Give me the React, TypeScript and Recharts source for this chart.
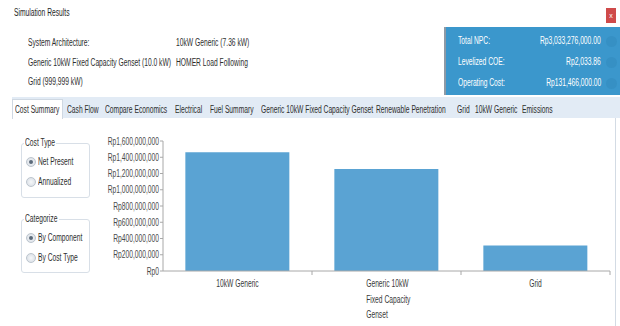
import { BarChart, Bar, XAxis, YAxis } from "recharts";

const FONT = '"Liberation Sans", Arial, sans-serif';
const SQ = 0.67; // horizontal squeeze, the source UI font is narrow
const FS = 10;

const components = ["10kW Generic", "Generic 10kW Fixed Capacity Genset", "Grid"];
const npcValues = [1462000000, 1256000000, 315000000];
const yTicks = [0, 200000000, 400000000, 600000000, 800000000, 1000000000, 1200000000, 1400000000, 1600000000];

const architecture = [
  ["System Architecture:", "10kW Generic (7.36 kW)"],
  ["Generic 10kW Fixed Capacity Genset (10.0 kW)", "HOMER Load Following"],
  ["Grid (999,999 kW)", ""],
];
const summary = [
  ["Total NPC:", "Rp3,033,276,000.00"],
  ["Levelized COE:", "Rp2,033.86"],
  ["Operating Cost:", "Rp131,466,000.00"],
];
const tabs = [
  "Cost Summary", "Cash Flow", "Compare Economics", "Electrical", "Fuel Summary",
  "Generic 10kW Fixed Capacity Genset", "Renewable Penetration", "Grid", "10kW Generic", "Emissions",
];
const tabX = [15, 67, 105, 175, 210, 261, 376, 457, 475, 522];

const data = components.map((name, i) => ({ name, npc: npcValues[i] }));

const rp = (v: number) => "Rp" + v.toLocaleString("en-US");

const wrap = (s: string, max: number) => {
  const out: string[] = [];
  let cur = "";
  s.split(" ").forEach((w) => {
    if (cur && (cur + " " + w).length > max) {
      out.push(cur);
      cur = w;
    } else cur = cur ? cur + " " + w : w;
  });
  if (cur) out.push(cur);
  return out;
};

// text placed by its vertical centre, squeezed horizontally
const T = ({ x, y, children, color = "#2e2e2e", right = false }: any) => (
  <div
    style={{
      position: "absolute",
      top: y - 6,
      lineHeight: "12px",
      height: 12,
      fontSize: FS,
      color,
      whiteSpace: "nowrap",
      ...(right ? { right: 620 - x } : { left: x }),
    }}
  >
    <span style={{ display: "inline-block", transform: `scaleX(${SQ})`, transformOrigin: right ? "right center" : "left center" }}>
      {children}
    </span>
  </div>
);

const YTick = (props: any) => {
  const { x, y, payload } = props;
  return (
    <text
      transform={`translate(${x},${y}) scale(${SQ},1)`}
      textAnchor="end"
      dy="0.35em"
      fontSize={FS}
      fill="#4a4a4a"
      fontFamily={FONT}
    >
      {rp(payload.value)}
    </text>
  );
};

const CatTick = (props: any) => {
  const { x, y, payload, width, visibleTicksCount } = props;
  const band = width / (visibleTicksCount || 3);
  const lines = wrap(payload.value, 14);
  const longest = Math.max(...lines.map((l) => l.length));
  const multi = lines.length > 1;
  return (
    <g>
      <line x1={x + band / 2} x2={x + band / 2} y1={y - 6} y2={y - 2} stroke="#a8a8a8" />
      {lines.map((l, i) => (
        <text
          key={i}
          transform={`translate(${multi ? x - longest * 1.45 : x},${y + 10 + i * 15.5}) scale(${SQ},1)`}
          textAnchor={multi ? "start" : "middle"}
          fontSize={FS}
          fill="#3a3a3a"
          fontFamily={FONT}
        >
          {l}
        </text>
      ))}
    </g>
  );
};

const Radio = ({ checked, label, y }: { checked: boolean; label: string; y: number }) => (
  <>
    <div
      style={{
        position: "absolute", left: 26, top: y - 5, width: 8, height: 8, borderRadius: "50%",
        border: "1px solid #bcc5ce", background: "radial-gradient(circle, #f6f8fa 0%, #d5dbe2 100%)",
        display: "flex", alignItems: "center", justifyContent: "center",
      }}
    >
      {checked && <div style={{ width: 4, height: 4, borderRadius: "50%", background: "#5b6a7a" }} />}
    </div>
    <T x={38} y={y}>{label}</T>
  </>
);

const GroupBox = ({ title, top, height }: { title: string; top: number; height: number }) => (
  <>
    <div
      style={{
        position: "absolute", left: 21, top, width: 69, height,
        border: "1px solid #d8dfe7", borderRadius: 3, boxSizing: "border-box",
      }}
    />
    <div style={{ position: "absolute", left: 24, top: top - 5, width: title.length * 3.5, height: 10, background: "#fff" }} />
    <T x={25} y={top}>{title}</T>
  </>
);

export default function App() {
  return (
    <div style={{ position: "relative", width: 620, height: 326, overflow: "hidden", background: "#fff", fontFamily: FONT }}>
      <style>{"body{margin:0}"}</style>
      <T x={14} y={13} color="#1e1e1e">Simulation Results</T>
      <div
        style={{
          position: "absolute", left: 606, top: 8, width: 10, height: 15, background: "#cf4a4a",
          color: "#fff", fontSize: 7, lineHeight: "15px", textAlign: "center",
        }}
      >
        x
      </div>
      {architecture.map(([a, b], i) => (
        <div key={i}>
          <T x={28} y={43 + i * 19.5}>{a}</T>
          <T x={176} y={43 + i * 19.5}>{b}</T>
        </div>
      ))}

      <div style={{ position: "absolute", left: 444, top: 27, width: 176, height: 68, background: "#3b97cc", borderLeft: "2px solid #8e9aa6", boxSizing: "border-box" }}>
        {summary.map((_, i) => (
          <div key={i} style={{ position: "absolute", left: 160, top: 9 + i * 21, width: 11, height: 11, borderRadius: "50%", background: "#3690c4" }} />
        ))}
      </div>
      {summary.map(([a, b], i) => (
        <div key={i}>
          <T x={458} y={41 + i * 21} color="#fff">{a}</T>
          <T x={601} y={41 + i * 21} color="#fff" right>{b}</T>
        </div>
      ))}

      <div style={{ position: "absolute", left: 12, top: 97, width: 608, height: 21, background: "#e2ebf5" }} />
      <div style={{ position: "absolute", left: 12, top: 99, width: 51, height: 20, background: "#fff", border: "1px solid #cfd8e2", borderBottom: "none", boxSizing: "border-box" }} />
      {tabs.map((t, i) => (
        <T key={t} x={tabX[i]} y={110}>{t}</T>
      ))}
      <div style={{ position: "absolute", left: 615, top: 118, width: 1, height: 208, background: "#d3dbe4" }} />

      <GroupBox title="Cost Type" top={143} height={55} />
      <Radio checked label="Net Present" y={162} />
      <Radio checked={false} label="Annualized" y={182} />
      <GroupBox title="Categorize" top={219} height={54} />
      <Radio checked label="By Component" y={238} />
      <Radio checked={false} label="By Cost Type" y={258} />

      <div style={{ position: "absolute", left: 100, top: 128 }}>
        <BarChart width={520} height={198} data={data} margin={{ top: 13, right: 10, left: 0, bottom: 5 }} barCategoryGap="15%">
          <YAxis
            width={63}
            domain={[0, 1600000000]}
            ticks={yTicks}
            interval={0}
            tick={<YTick />}
            tickSize={3}
            tickMargin={1}
            axisLine={{ stroke: "#a8a8a8" }}
            tickLine={{ stroke: "#a8a8a8" }}
          />
          <XAxis
            dataKey="name"
            height={50}
            interval={0}
            tick={<CatTick />}
            tickSize={4}
            tickMargin={2}
            tickLine={false}
            axisLine={{ stroke: "#a8a8a8" }}
          />
          <Bar dataKey="npc" fill="#5aa3d3" isAnimationActive={false} />
        </BarChart>
      </div>
    </div>
  );
}
